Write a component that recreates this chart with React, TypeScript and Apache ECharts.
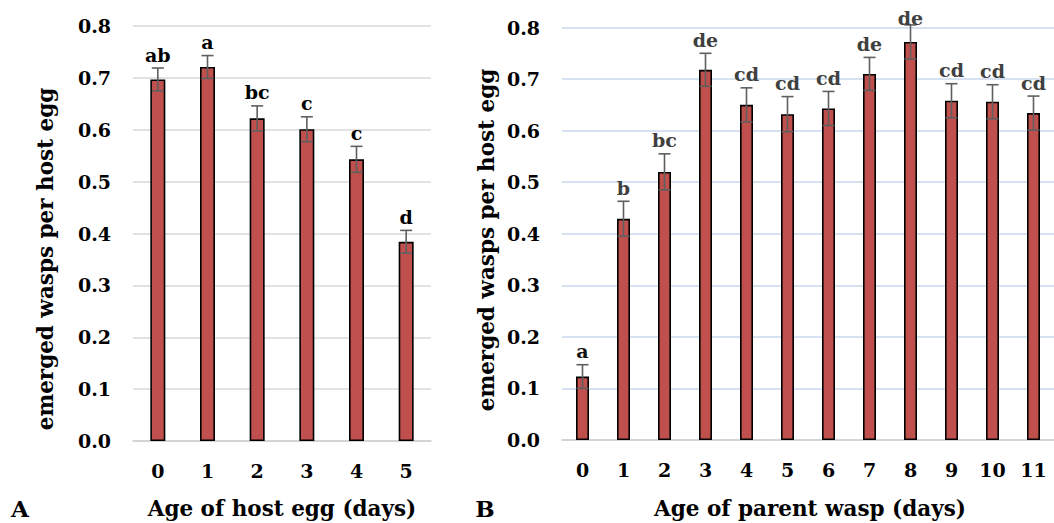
import React, { useEffect, useRef } from "react";
import * as echarts from "echarts";

// Panel A: age of host egg
const hostAges = ["0", "1", "2", "3", "4", "5"];
const hostMeans = [0.697, 0.721, 0.622, 0.601, 0.543, 0.384];
const hostErrors = [0.022, 0.022, 0.024, 0.024, 0.025, 0.022];
const hostLetters = ["ab", "a", "bc", "c", "c", "d"];

// Panel B: age of parent wasp
const waspAges = ["0", "1", "2", "3", "4", "5", "6", "7", "8", "9", "10", "11"];
const waspMeans = [0.123, 0.429, 0.52, 0.718, 0.65, 0.632, 0.643, 0.71, 0.772, 0.658, 0.656, 0.634];
const waspErrors = [0.023, 0.034, 0.035, 0.032, 0.033, 0.034, 0.033, 0.032, 0.033, 0.033, 0.033, 0.033];
const waspLetters = ["a", "b", "bc", "de", "cd", "cd", "cd", "de", "de", "cd", "cd", "cd"];

const yTicks = [0, 0.1, 0.2, 0.3, 0.4, 0.5, 0.6, 0.7, 0.8];

const FONT = "DejaVu Serif";
const BAR_COLOR = "#C0504D";

function errorSeries(
  xIndex: number,
  means: number[],
  errors: number[],
  letters: string[],
  letterColor: (i: number) => string
) {
  return {
    type: "custom",
    xAxisIndex: xIndex,
    yAxisIndex: xIndex,
    z: 10,
    data: means.map((m, i) => [i, m, errors[i]]),
    renderItem: (params: any, api: any) => {
      const i = api.value(0);
      const m = api.value(1);
      const e = api.value(2);
      const top = api.coord([i, m + e]);
      const bot = api.coord([i, m - e]);
      const ceil = api.coord([i, yTicks[yTicks.length - 1]])[1];
      const cap = 6;
      const lineStyle = { stroke: "#5f5f5f", lineWidth: 1.6 };
      const labelY = Math.max(top[1] - 4, ceil);
      return {
        type: "group",
        children: [
          { type: "line", shape: { x1: top[0], y1: top[1], x2: bot[0], y2: bot[1] }, style: lineStyle },
          { type: "line", shape: { x1: top[0] - cap, y1: top[1], x2: top[0] + cap, y2: top[1] }, style: lineStyle },
          { type: "line", shape: { x1: bot[0] - cap, y1: bot[1], x2: bot[0] + cap, y2: bot[1] }, style: lineStyle },
          {
            type: "text",
            x: top[0],
            y: labelY,
            style: {
              text: letters[i],
              fill: letterColor(i),
              font: `bold 19px "${FONT}"`,
              align: "center",
              verticalAlign: "bottom",
            },
          },
        ],
      };
    },
  };
}

export default function App() {
  const ref = useRef<HTMLDivElement>(null);

  useEffect(() => {
    if (!ref.current) return;
    const chart = echarts.init(ref.current, undefined, { renderer: "svg" });
    const tickLabel = {
      fontFamily: FONT,
      fontWeight: "bold" as const,
      fontSize: 19,
      color: "#000",
    };
    const yAxis = (gridIndex: number, gridColor: string) => ({
      type: "value",
      gridIndex,
      min: yTicks[0],
      max: yTicks[yTicks.length - 1],
      interval: 0.1,
      axisLine: { show: false },
      axisTick: { show: false },
      axisLabel: { ...tickLabel, margin: 22, formatter: (v: number) => v.toFixed(1) },
      splitLine: { lineStyle: { color: gridColor, width: 1.5 } },
    });
    const xAxis = (gridIndex: number, cats: string[]) => ({
      type: "category",
      gridIndex,
      data: cats,
      axisLine: { lineStyle: { color: "#D0D0D0", width: 1.5 } },
      axisTick: { show: false },
      axisLabel: { ...tickLabel, margin: 20 },
    });
    const titleStyle = {
      fill: "#000",
      font: `bold 21.5px "${FONT}"`,
      align: "center",
      verticalAlign: "middle",
    };
    chart.setOption({
      animation: false,
      backgroundColor: "#fff",
      grid: [
        { left: 133, top: 26, width: 298, height: 415 },
        { left: 562, top: 27.5, width: 497, height: 412.5 },
      ],
      xAxis: [xAxis(0, hostAges), xAxis(1, waspAges)],
      yAxis: [yAxis(0, "#D9D9D9"), yAxis(1, "#C9D8EC")],
      series: [
        {
          type: "bar",
          xAxisIndex: 0,
          yAxisIndex: 0,
          data: hostMeans,
          barWidth: 15,
          itemStyle: { color: BAR_COLOR, borderColor: "#000", borderWidth: 1.6 },
        },
        {
          type: "bar",
          xAxisIndex: 1,
          yAxisIndex: 1,
          data: waspMeans,
          barWidth: 13,
          itemStyle: { color: BAR_COLOR, borderColor: "#000", borderWidth: 1.6 },
        },
        errorSeries(0, hostMeans, hostErrors, hostLetters, () => "#000"),
        errorSeries(1, waspMeans, waspErrors, waspLetters, (i) => (i === 0 ? "#111" : "#404040")),
      ],
      graphic: [
        { type: "text", x: 282, y: 508, style: { ...titleStyle, text: "Age of host egg (days)" } },
        { type: "text", x: 810, y: 508, style: { ...titleStyle, text: "Age of parent wasp (days)" } },
        { type: "text", x: 45, y: 259, rotation: Math.PI / 2, style: { ...titleStyle, text: "emerged wasps per host egg" } },
        { type: "text", x: 486, y: 240, rotation: Math.PI / 2, style: { ...titleStyle, text: "emerged wasps per host egg" } },
        { type: "text", x: 20, y: 508, style: { ...titleStyle, font: `bold 23px "${FONT}"`, text: "A" } },
        { type: "text", x: 485, y: 508, style: { ...titleStyle, font: `bold 23px "${FONT}"`, text: "B" } },
      ],
    });
    return () => chart.dispose();
  }, []);

  return (
    <div
      ref={ref}
      style={{ position: "fixed", left: 0, top: 0, width: 1054, height: 523 }}
    />
  );
}
